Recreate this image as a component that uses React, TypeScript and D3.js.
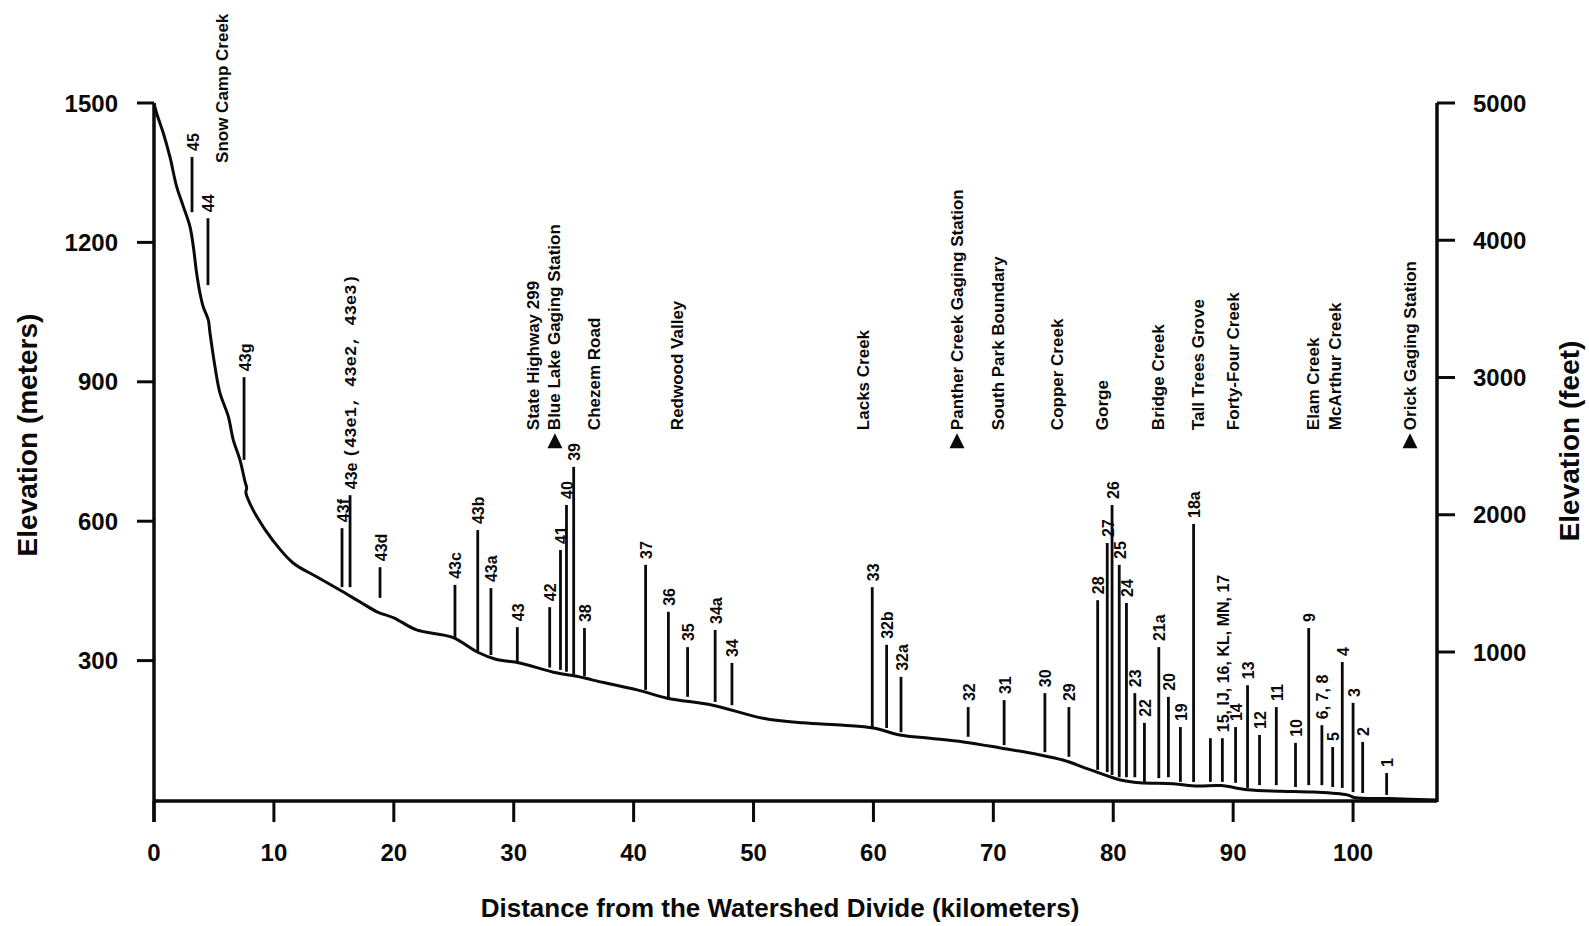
import React from "react";
import * as d3 from "d3";

// ---- Data ----
const profileKm = [0, 0.22, 0.78, 1.33, 1.89, 2.45, 3.0, 3.28, 3.56, 3.84, 4.11, 4.53, 4.67, 5.09, 5.5, 6.2, 6.61, 7.17, 7.59, 7.73, 7.66, 7.8, 8.57, 9.9, 11.6, 13.6, 15.5, 17.2, 18.6, 20, 21.9, 24.9, 27.0, 28.5, 30.5, 33.3, 35.5, 36.6, 40.3, 42.8, 46.6, 50.8, 54.1, 57.5, 60, 62.2, 64.7, 67.5, 70.6, 73.9, 75.8, 78.1, 80.6, 82.2, 85, 87, 89, 91.2, 94, 96.7, 99.5, 100.2, 103, 107];
const profileElev = [1500, 1478, 1435, 1384, 1320, 1277, 1234, 1191, 1133, 1090, 1061, 1033, 1005, 932, 876, 825, 775, 732, 685, 672, 662, 650, 610, 559, 510, 480, 452, 426, 405, 392, 366, 350, 318, 303, 295, 275, 265, 258, 237, 219, 204, 176, 166, 161, 155, 140, 133, 125, 112, 97, 86, 65, 43, 37, 35, 30, 31, 22, 19, 17, 11, 5, 3, 0];

const siteLabels = ["45", "44", "43g", "43f", "43e (43e1, 43e2, 43e3)", "43d", "43c", "43b", "43a", "43", "42", "41", "40", "39", "38", "37", "36", "35", "34a", "34", "33", "32b", "32a", "32", "31", "30", "29", "28", "27", "26", "25", "24", "23", "22", "21a", "20", "19", "18a", "", "15, IJ, 16, KL, MN, 17", "14", "13", "12", "11", "10", "9", "6, 7, 8", "5", "4", "3", "2", "1"];
const siteKm = [3.17, 4.5, 7.51, 15.68, 16.35, 18.85, 25.1, 27.0, 28.1, 30.3, 33.0, 33.9, 34.4, 35.0, 35.9, 41.0, 42.9, 44.5, 46.8, 48.2, 59.9, 61.1, 62.3, 67.9, 70.9, 74.3, 76.3, 78.7, 79.5, 79.9, 80.5, 81.1, 81.8, 82.6, 83.8, 84.6, 85.6, 86.7, 88.1, 89.1, 90.2, 91.2, 92.2, 93.6, 95.2, 96.3, 97.4, 98.3, 99.1, 100.0, 100.8, 102.8];
const siteTop = [1384, 1252, 910, 585, 656, 501, 463, 581, 456, 372, 415, 538, 635, 717, 370, 506, 405, 329, 366, 295, 458, 334, 265, 200, 215, 230, 200, 430, 553, 635, 506, 424, 230, 166, 329, 222, 157, 594, 133, 133, 157, 247, 140, 200, 123, 370, 161, 114, 297, 209, 125, 58];
const siteBase = [1265, 1108, 732, 458, 458, 435, 349, 320, 312, 298, 285, 280, 276, 270, 266, 237, 219, 222, 211, 204, 157, 155, 146, 136, 118, 103, 93, 65, 60, 54, 49, 49, 49, 37, 47, 49, 39, 39, 39, 39, 37, 26, 32, 32, 28, 32, 32, 28, 26, 17, 15, 11];

const landmarkLabels = ["Snow Camp Creek", "State Highway 299", "Blue Lake Gaging Station", "Chezem Road", "Redwood Valley", "Lacks Creek", "Panther Creek Gaging Station", "South Park Boundary", "Copper Creek", "Gorge", "Bridge Creek", "Tall Trees Grove", "Forty-Four Creek", "Elam Creek", "McArthur Creek", "Orick Gaging Station"];
const landmarkKm = [5.75, 31.61, 33.44, 36.7, 43.7, 59.13, 66.97, 70.39, 75.31, 79.07, 83.74, 87.07, 89.99, 96.66, 98.5, 104.75];
const landmarkElev = [1371, 796, 796, 796, 796, 796, 796, 796, 796, 796, 796, 796, 796, 796, 796, 796];
const gagingStations = ["Blue Lake Gaging Station", "Panther Creek Gaging Station", "Orick Gaging Station"];

const xTicks = [0, 10, 20, 30, 40, 50, 60, 70, 80, 90, 100];
const meterTicks = [300, 600, 900, 1200, 1500];
const feetTicks = [1000, 2000, 3000, 4000, 5000];

const FONT = "'Liberation Sans', Arial, Helvetica, sans-serif";
const MONO = "'Liberation Mono', 'DejaVu Sans Mono', monospace";

export default function App() {
  const W = 1589;
  const H = 926;
  const x = d3.scaleLinear().domain([0, 107]).range([154, 1437]);
  const y = d3.scaleLinear().domain([0, 1500]).range([800, 103]);
  const yFt = d3.scaleLinear().domain([1000, 5000]).range([652, 103]);

  const pts: [number, number][] = profileKm.map((k, i) => [k, profileElev[i]]);
  const line = d3
    .line<[number, number]>()
    .x((d) => x(d[0]))
    .y((d) => y(d[1]))
    .curve(d3.curveCatmullRom.alpha(0.5));

  const x0 = x(0);
  const x1 = x(107);
  const yAxis = 801;
  const ink = "#0a0a0a";

  return (
    <svg
      width={W}
      height={H}
      viewBox={`0 0 ${W} ${H}`}
      style={{ position: "absolute", left: 0, top: 0, background: "#fff" }}
      fontFamily={FONT}
    >
      <rect x={0} y={0} width={W} height={H} fill="#fff" />

      {/* axes */}
      <line x1={x0} y1={y(1500)} x2={x0} y2={822} stroke={ink} strokeWidth={3.5} />
      <line x1={x0} y1={yAxis} x2={x1} y2={yAxis} stroke={ink} strokeWidth={3.5} />
      <line x1={x1} y1={yFt(5000)} x2={x1} y2={yAxis + 1} stroke={ink} strokeWidth={3.5} />

      {/* left ticks */}
      {meterTicks.map((t) => (
        <g key={"m" + t}>
          <line x1={x0 - 17} y1={y(t)} x2={x0} y2={y(t)} stroke={ink} strokeWidth={3} />
          <text
            x={118}
            y={y(t)}
            textAnchor="end"
            dominantBaseline="central"
            fontSize={24}
            fontWeight="bold"
            fill={ink}
          >
            {t}
          </text>
        </g>
      ))}

      {/* right ticks */}
      {feetTicks.map((t) => (
        <g key={"f" + t}>
          <line x1={x1} y1={yFt(t)} x2={x1 + 18} y2={yFt(t)} stroke={ink} strokeWidth={3} />
          <text
            x={1473}
            y={yFt(t)}
            textAnchor="start"
            dominantBaseline="central"
            fontSize={24}
            fontWeight="bold"
            fill={ink}
          >
            {t}
          </text>
        </g>
      ))}

      {/* bottom ticks */}
      {xTicks.map((t) => (
        <g key={"x" + t}>
          <line x1={x(t)} y1={yAxis} x2={x(t)} y2={822} stroke={ink} strokeWidth={3} />
          <text
            x={x(t)}
            y={861}
            textAnchor="middle"
            fontSize={24}
            fontWeight="bold"
            fill={ink}
          >
            {t}
          </text>
        </g>
      ))}

      {/* axis titles */}
      <text
        x={780}
        y={917}
        textAnchor="middle"
        fontSize={26}
        fontWeight="bold"
        fill={ink}
      >
        Distance from the Watershed Divide (kilometers)
      </text>
      <text
        transform={`translate(37,435) rotate(-90)`}
        textAnchor="middle"
        fontSize={28}
        fontWeight="bold"
        fill={ink}
      >
        Elevation (meters)
      </text>
      <text
        transform={`translate(1579,441) rotate(-90)`}
        textAnchor="middle"
        fontSize={28}
        fontWeight="bold"
        fill={ink}
      >
        Elevation (feet)
      </text>

      {/* profile */}
      <path d={line(pts) || ""} fill="none" stroke={ink} strokeWidth={3} strokeLinejoin="round" />

      {/* sample sites */}
      {siteKm.map((k, i) => {
        const sx = x(k);
        const top = y(siteTop[i]);
        const lab = siteLabels[i];
        const paren = lab.indexOf(" (");
        return (
          <g key={"s" + i}>
            <line x1={sx} y1={top} x2={sx} y2={y(siteBase[i])} stroke={ink} strokeWidth={2.8} />
            {lab && (
              <text
                transform={`translate(${sx + 1},${top - 6}) rotate(-90)`}
                textAnchor="start"
                dominantBaseline="central"
                fontSize={16}
                fontWeight="bold"
                fill={ink}
              >
                {paren >= 0 ? (
                  <>
                    <tspan>{lab.slice(0, paren) + " "}</tspan>
                    <tspan fontFamily={MONO} fontSize={17}>
                      {lab.slice(paren + 1)}
                    </tspan>
                  </>
                ) : (
                  lab
                )}
              </text>
            )}
          </g>
        );
      })}

      {/* landmarks */}
      {landmarkKm.map((k, i) => {
        const lx = x(k);
        const ly = y(landmarkElev[i]);
        const lab = landmarkLabels[i];
        const gauge = gagingStations.indexOf(lab) >= 0;
        return (
          <g key={"l" + i}>
            {gauge && (
              <path
                d={`M${lx - 7.5},${ly + 18} L${lx + 7.5},${ly + 18} L${lx},${ly + 3} Z`}
                fill={ink}
              />
            )}
            <text
              transform={`translate(${lx},${ly}) rotate(-90)`}
              textAnchor="start"
              dominantBaseline="central"
              fontSize={17}
              fontWeight="bold"
              fill={ink}
            >
              {lab}
            </text>
          </g>
        );
      })}
    </svg>
  );
}
